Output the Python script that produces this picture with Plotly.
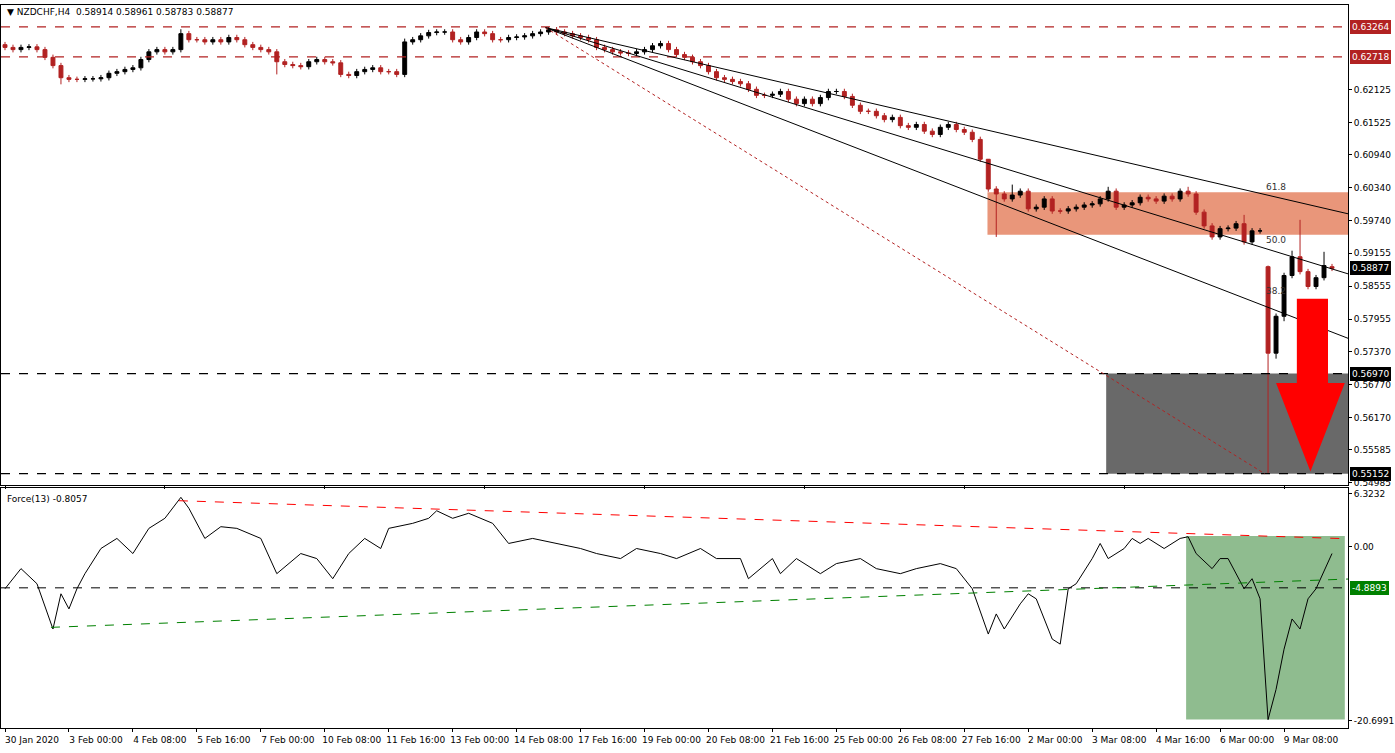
import plotly.graph_objects as go
from plotly.subplots import make_subplots

closes = [
    0.6289, 0.6285, 0.6289, 0.6290, 0.6285, 0.6271, 0.6256, 0.6234, 0.6231, 0.6231,
    0.6232, 0.6232, 0.6234, 0.6242, 0.6245, 0.6249, 0.6252, 0.6267, 0.6281, 0.6285,
    0.6281, 0.6285, 0.6314, 0.6303, 0.6303, 0.6299, 0.6303, 0.6299, 0.6307, 0.6303,
    0.6294, 0.6289, 0.6285, 0.6281, 0.6263, 0.6258, 0.6256, 0.6254, 0.6263, 0.6267,
    0.6263, 0.6261, 0.6240, 0.6238, 0.6245, 0.6249, 0.6252, 0.6245, 0.6245, 0.6240,
    0.6299, 0.6303, 0.6310, 0.6316, 0.6317, 0.6317, 0.6303, 0.6299, 0.6307, 0.6317,
    0.6314, 0.6303, 0.6303, 0.6307, 0.6308, 0.6310, 0.6314, 0.6317, 0.6321, 0.6317,
    0.6314, 0.6310, 0.6307, 0.6303, 0.6289, 0.6285, 0.6281, 0.6279, 0.6278, 0.6281,
    0.6285, 0.6292, 0.6296, 0.6285, 0.6276, 0.6271, 0.6263, 0.6256, 0.6245, 0.6234,
    0.6231, 0.6227, 0.6223, 0.6213, 0.6202, 0.6202, 0.6204, 0.6209, 0.6195, 0.6187,
    0.6195, 0.6187, 0.6198, 0.6209, 0.6209, 0.6200, 0.6184, 0.6173, 0.6173, 0.6165,
    0.6158, 0.6162, 0.6147, 0.6144, 0.6149, 0.6137, 0.6131, 0.6144, 0.6149, 0.6140,
    0.6135, 0.6122, 0.6086, 0.6032, 0.6023, 0.6014, 0.6021, 0.6028, 0.5996, 0.5999,
    0.6014, 0.5992, 0.5992, 0.5996, 0.5999, 0.6003, 0.6005, 0.6014, 0.6028, 0.5999,
    0.6003, 0.6007, 0.6017, 0.6014, 0.6010, 0.6019, 0.6014, 0.6028, 0.6023, 0.5990,
    0.5965, 0.5945, 0.5960, 0.5961, 0.5969, 0.5936, 0.5956, 0.5956, 0.5734, 0.5801,
    0.5875, 0.5909, 0.5882, 0.5855, 0.5871, 0.5893, 0.5888,
]
first_open = 0.6294
open_gaps = {158: 0.5891, 166: 0.5891}
high_spikes = {22: 0.6322, 50: 0.6305, 123: 0.6055, 126: 0.6040, 138: 0.6036, 148: 0.6036,
               155: 0.5985, 158: 0.5893, 161: 0.5920, 162: 0.5976, 165: 0.5918}
low_spikes = {7: 0.6222, 34: 0.6240, 124: 0.5945, 158: 0.5515, 159: 0.5724, 160: 0.5792}
wick = 0.0005

force_bar = [0, 2, 4, 6, 7, 8, 9, 10, 12, 14, 16, 18, 20, 22, 23, 25, 27, 29, 32, 34, 37, 39, 41,
             43, 45, 47, 48, 51, 53, 54, 56, 58, 61, 63, 66, 69, 72, 74, 77, 79, 82, 84, 87, 89,
             92, 93, 96, 97, 99, 102, 104, 107, 109, 112, 114, 117, 119, 121, 123, 124, 125, 127,
             128, 129, 131, 132, 133, 134, 136, 137, 138, 140, 141, 142, 143, 145, 147, 148, 149,
             151, 152, 153, 155, 156, 157, 158, 159, 160, 161, 162, 163, 164, 166]
force_val = [-5.0, -2.6, -4.4, -9.8, -5.6, -7.4, -5.0, -3.2, -0.2, 1.0, -0.8, 2.2, 3.4, 5.9, 4.6,
             1.0, 2.4, 2.2, 1.0, -3.2, -0.8, -1.4, -3.8, -0.8, 1.0, -0.2, 2.2, 2.8, 3.4, 4.3, 3.4,
             4.0, 2.8, 0.4, 1.0, 0.4, -0.2, -0.8, -1.4, -0.2, -0.8, -1.4, -0.2, -1.4, -1.4, -3.8,
             -1.4, -3.2, -1.4, -3.2, -2.0, -1.4, -2.6, -3.2, -2.6, -2.0, -2.6, -5.0, -10.4, -8.0,
             -9.8, -6.8, -5.6, -6.2, -11.0, -11.6, -5.0, -4.4, -1.4, 0.4, -1.4, -0.2, 1.0, 0.4,
             1.0, -0.2, 1.0, 1.2, -0.8, -2.6, -1.4, -1.4, -5.0, -3.8, -6.2, -20.6, -17.0, -12.2,
             -8.6, -9.8, -6.2, -5.0, -0.8]

tick_labels = ["30 Jan 2020", "3 Feb 00:00", "4 Feb 08:00", "5 Feb 16:00", "7 Feb 00:00",
               "10 Feb 08:00", "11 Feb 16:00", "13 Feb 00:00", "14 Feb 08:00", "17 Feb 16:00",
               "19 Feb 00:00", "20 Feb 08:00", "21 Feb 16:00", "25 Feb 00:00", "26 Feb 08:00",
               "27 Feb 16:00", "2 Mar 00:00", "3 Mar 08:00", "4 Mar 16:00", "6 Mar 00:00",
               "9 Mar 08:00"]
price_ticks = [0.62125, 0.61525, 0.60940, 0.60340, 0.59740, 0.59155, 0.58555, 0.57955,
               0.57370, 0.56770, 0.56170, 0.55585, 0.54985]
force_ticks = [6.3232, 0.0, -20.6991]
resistance = [0.63264, 0.62718]
support = [0.56970, 0.55152]
last_price = 0.58877
force_level = -4.8893

opens = [first_open] + closes[:-1]
for k, v in open_gaps.items():
    opens[k] = v
highs = [high_spikes.get(i, max(o, c) + wick) for i, (o, c) in enumerate(zip(opens, closes))]
lows = [low_spikes.get(i, min(o, c) - wick) for i, (o, c) in enumerate(zip(opens, closes))]
bars = list(range(len(closes)))

RED = "#B22222"
FONT = "DejaVu Sans"

fig = make_subplots(rows=2, cols=1, shared_xaxes=True, vertical_spacing=0.005,
                    row_heights=[0.667, 0.333])

fig.add_trace(go.Candlestick(
    x=bars, open=opens, high=highs, low=lows, close=closes,
    increasing=dict(line=dict(color="black", width=1), fillcolor="black"),
    decreasing=dict(line=dict(color=RED, width=1), fillcolor=RED),
    whiskerwidth=0, showlegend=False, hoverinfo="skip"), row=1, col=1)

fig.add_trace(go.Scatter(x=force_bar, y=force_val, mode="lines",
                         line=dict(color="black", width=1), showlegend=False), row=2, col=1)

# zones
fig.add_shape(type="rect", x0=122.9, x1=168, y0=0.5949, y1=0.6026, fillcolor="#E9967A",
              line_width=0, layer="below", row=1, col=1)
fig.add_shape(type="rect", x0=137.75, x1=168, y0=support[1], y1=support[0], fillcolor="#696969",
              line_width=0, layer="below", row=1, col=1)
fig.add_shape(type="rect", x0=147.75, x1=167.6, y0=-20.6, y1=1.3, fillcolor="#8FBC8F",
              line_width=0, layer="below", row=2, col=1)

for lvl in resistance:
    fig.add_hline(y=lvl, line=dict(color=RED, width=1.2, dash="dash"), row=1, col=1)
for lvl in support:
    fig.add_hline(y=lvl, line=dict(color="black", width=1.2, dash="dash"), row=1, col=1)
fig.add_hline(y=force_level, line=dict(color="black", width=1, dash="dash"), row=2, col=1)

# fan lines
for y1 in [0.5987, 0.5878, 0.5761]:
    fig.add_shape(type="line", x0=67.6, y0=0.6325, x1=168, y1=y1,
                  line=dict(color="black", width=1), row=1, col=1)
fig.add_shape(type="line", x0=67.6, y0=0.6325, x1=157.6, y1=0.5515,
              line=dict(color=RED, width=1, dash="dot"), row=1, col=1)
fig.add_shape(type="line", x0=21.75, y0=5.5, x1=168, y1=0.96,
              line=dict(color="red", width=1, dash="dash"), row=2, col=1)
fig.add_shape(type="line", x0=5.75, y0=-9.6, x1=168, y1=-3.84,
              line=dict(color="green", width=1, dash="dash"), row=2, col=1)

# arrow
fig.add_shape(type="path",
              path="M 161.6 0.5833 L 165.5 0.5833 L 165.5 0.5680 L 167.6 0.5680 "
                   "L 163.3 0.5519 L 159.0 0.5680 L 161.6 0.5680 Z",
              fillcolor="red", line_width=0, row=1, col=1)

for txt, yv in [("61.8", 0.6035), ("50.0", 0.5940), ("38.2", 0.5846)]:
    fig.add_annotation(x=157.5, y=yv, text=txt, showarrow=False, xanchor="left",
                       font=dict(size=9, color="#333333", family=FONT), row=1, col=1)

# boxed price labels on the right axis
boxes = [(resistance[0], RED, "y"), (resistance[1], RED, "y"), (last_price, "black", "y"),
         (support[0], "black", "y"), (support[1], "black", "y"), (force_level, "#008000", "y2")]
for val, col, yr in boxes:
    txt = f"{val:.4f}" if yr == "y2" else f"{val:.5f}"
    fig.add_annotation(xref="paper", yref=yr, x=1.0, y=val, text=txt, showarrow=False,
                       xanchor="left", xshift=2, bgcolor=col, bordercolor=col, borderpad=1,
                       font=dict(size=9, color="white", family=FONT))

fig.add_annotation(xref="paper", yref="paper", x=0.003, y=1.0, yanchor="top",
                   text="▼ NZDCHF,H4  0.58914 0.58961 0.58783 0.58877", showarrow=False,
                   xanchor="left", font=dict(size=9, color="black", family=FONT))
fig.add_annotation(xref="paper", yref="paper", x=0.003, y=0.327, yanchor="top",
                   text="Force(13) -0.8057", showarrow=False, xanchor="left",
                   font=dict(size=9, color="black", family=FONT))

axis_style = dict(showgrid=False, zeroline=False, showline=True, linecolor="black",
                  mirror=True, ticks="outside", ticklen=3, tickcolor="black", automargin=False,
                  tickfont=dict(size=9, family=FONT, color="black"))
fig.update_xaxes(range=[-0.5, 168], rangeslider_visible=False, **axis_style)
fig.update_xaxes(tickvals=[i * 8 for i in range(len(tick_labels))], ticktext=tick_labels,
                 ticklabelshift=27, row=2, col=1)
fig.update_yaxes(side="right", **axis_style)
fig.update_yaxes(range=[0.5495, 0.6366], tickvals=price_ticks, tickformat=".5f", row=1, col=1)
fig.update_yaxes(range=[-21.6, 6.96], tickvals=force_ticks, ticktext=["6.3232", "0.00", "-20.6991"],
                 row=2, col=1)

fig.update_layout(width=1395, height=753, margin=dict(l=1, r=47, t=5, b=25),
                  paper_bgcolor="white", plot_bgcolor="white", hovermode=False)
fig.write_html("out.html", config={"displayModeBar": False},
               post_script="document.body.style.margin='0';document.body.style.overflow='hidden';")
